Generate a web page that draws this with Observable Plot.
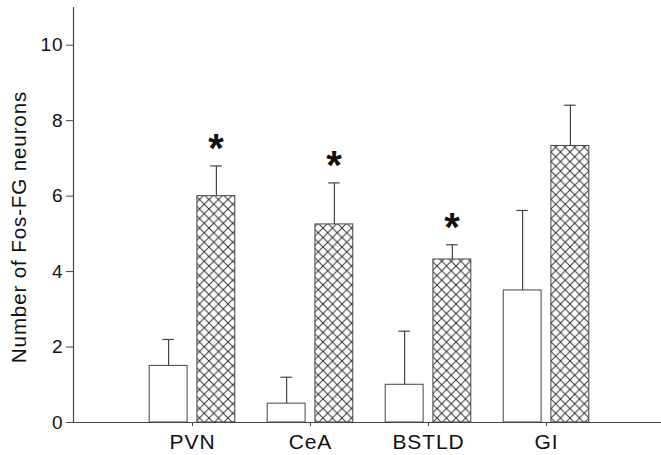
<!DOCTYPE html>
<html>
<head>
<meta charset="utf-8">
<script src="https://cdn.jsdelivr.net/npm/d3@7"></script>
<script src="https://cdn.jsdelivr.net/npm/@observablehq/plot@0.6"></script>
<style>
  html, body { margin: 0; padding: 0; background: #fff; }
</style>
</head>
<body>
<div id="chart"></div>
<script>
const categories = ["PVN", "CeA", "BSTLD", "GI"];
const controlValues = [1.5, 0.5, 1.0, 3.5];
const controlErrors = [0.7, 0.7, 1.42, 2.12];
const treatedValues = [6.0, 5.25, 4.32, 7.33];
const treatedErrors = [0.8, 1.1, 0.39, 1.08];
const significant = [true, true, true, false];
const yTicks = [0, 2, 4, 6, 8, 10];
const yLabel = "Number of Fos-FG neurons";

const control = categories.map((c, i) => ({cat: c, value: controlValues[i], top: controlValues[i] + controlErrors[i]}));
const treated = categories.map((c, i) => ({cat: c, value: treatedValues[i], top: treatedValues[i] + treatedErrors[i], sig: significant[i]}));

const font = "'Liberation Sans', Arial, Helvetica, sans-serif";
const ink = "#111";
const line = "#444";

const chart = Plot.plot({
  width: 661,
  height: 455,
  marginLeft: 73,
  marginRight: 0,
  marginTop: 7,
  marginBottom: 33,
  style: {fontFamily: font, color: ink, background: "#fff", letterSpacing: "0.9px"},
  x: {type: "band", domain: categories, paddingInner: 0.2, paddingOuter: 0.5915, align: 0.5158, label: null},
  y: {domain: [0, 11], label: null},
  marks: [
    Plot.barY(control, {x: "cat", y: "value", fill: "white", stroke: line, strokeWidth: 1, insetLeft: 4.2, insetRight: 51.9}),
    Plot.barY(treated, {x: "cat", y: "value", fill: "url(#crosshatch)", stroke: line, strokeWidth: 1, insetLeft: 51.9, insetRight: 4.2}),
    Plot.ruleX(control, {x: "cat", y1: "value", y2: "top", dx: -23.9, stroke: line, strokeWidth: 1.2}),
    Plot.ruleX(treated, {x: "cat", y1: "value", y2: "top", dx: 23.9, stroke: line, strokeWidth: 1.2}),
    Plot.tickY(control, {x: "cat", y: "top", stroke: line, strokeWidth: 1.2, insetLeft: 17.3, insetRight: 65.1}),
    Plot.tickY(treated, {x: "cat", y: "top", stroke: line, strokeWidth: 1.2, insetLeft: 65.1, insetRight: 17.3}),
    Plot.text(treated.filter(d => d.sig), {x: "cat", y: "top", text: () => "*", dx: 23.9, dy: -17, fontSize: 40, fontWeight: "bold", fill: ink, lineAnchor: "middle"}),
    Plot.ruleY([0], {stroke: line, strokeWidth: 1.2}),
    Plot.frame({anchor: "left", stroke: line, strokeWidth: 1.2}),
    Plot.axisY({ticks: yTicks, tickSize: 7, tickPadding: 3, fontSize: 19, label: null, stroke: line, fill: ink}),
    Plot.axisX({tickSize: 4, tickPadding: 8, fontSize: 21, label: null, stroke: line, fill: ink}),
    Plot.text([yLabel], {frameAnchor: "left", text: d => d, rotate: -90, textAnchor: "middle", dx: -54, dy: 12, fontSize: 20.5, fill: ink})
  ]
});

const svg = d3.select(chart);
const defs = svg.insert("defs", ":first-child");
const p = defs.append("pattern")
  .attr("id", "crosshatch")
  .attr("patternUnits", "userSpaceOnUse")
  .attr("width", 9.5)
  .attr("height", 9.5);
p.append("rect").attr("width", 9.5).attr("height", 9.5).attr("fill", "white");
p.append("path").attr("d", "M0,0L9.5,9.5M0,9.5L9.5,0M-1,1L1,-1M8.5,10.5L10.5,8.5").attr("stroke", "#333").attr("stroke-width", 1).attr("fill", "none");

document.getElementById("chart").appendChild(chart);
</script>
</body>
</html>
